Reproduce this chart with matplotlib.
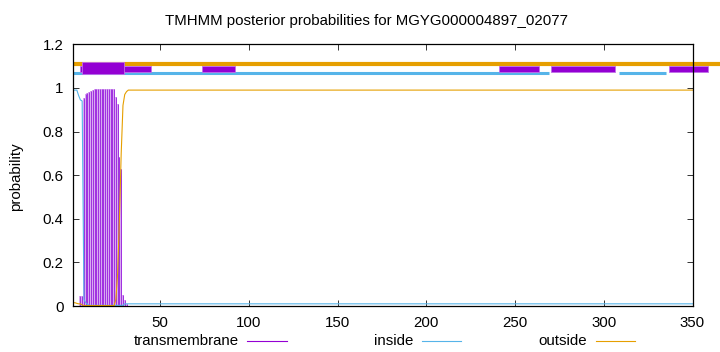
import matplotlib
matplotlib.use("Agg")
import matplotlib.pyplot as plt
from matplotlib.lines import Line2D
from matplotlib.patches import Rectangle

plt.rcParams['font.family'] = ['Liberation Sans', 'DejaVu Sans']
plt.rcParams['font.size'] = 10.8

title = "TMHMM posterior probabilities for MGYG000004897_02077"
seq_len = 350

# per-residue posterior probabilities (residue positions and values)
tm_res = list(range(1, 32))
tm_prob = [0, 0, 0, 0, 0.045, 0.045, 0.955, 0.972, 0.978, 0.983, 0.988, 0.992,
           0.995, 0.995, 0.995, 0.995, 0.995, 0.995, 0.995, 0.995, 0.995, 0.995,
           0.995, 0.995, 0.96, 0.925, 0.685, 0.63, 0.05, 0.027, 0.01]

inside_res = [1, 2, 3, 4, 5, 6, 7, 8, 9, 10, 29, 30, 350]
inside_prob = [0.99, 0.99, 0.99, 0.965, 0.945, 0.94, 0.03, 0.015, 0.008, 0.003,
               0.003, 0.01, 0.01]

outside_res = [1, 2, 3, 4, 5, 6, 7, 24, 25, 26, 27, 28, 29, 30, 31, 32, 350]
outside_prob = [0.015, 0.015, 0.012, 0.01, 0.01, 0.005, 0.002, 0.002, 0.03, 0.15,
                0.4, 0.7, 0.92, 0.97, 0.983, 0.99, 0.99]

# topology segments drawn above the curves (start, end)
outside_segments = [(1, 366)]
inside_segments = [(1, 269.2), (308.3, 335.2)]
tm_segments = [(4.8, 44.8), (73.4, 92.2), (241.2, 263.4), (270.2, 306.4), (336.5, 358.5)]
tm_strong_segments = [(5.7, 29.8)]

xticks = [50, 100, 150, 200, 250, 300, 350]
yticks = [0, 0.2, 0.4, 0.6, 0.8, 1.0, 1.2]
ytick_labels = ["0", "0.2", "0.4", "0.6", "0.8", "1", "1.2"]

PURPLE = "#9400d3"
BLUE = "#56b4e9"
ORANGE = "#e69f00"

fig = plt.figure(figsize=(7.2, 3.52), dpi=100)
W, H = 720, 352
ax = fig.add_axes([73.3 / W, 46 / H, (692.5 - 73.3) / W, (306 - 44.3) / H])

ax.vlines(tm_res, 0, tm_prob, colors="#d4a0f0", linewidth=1.3, zorder=2)
ax.vlines(tm_res, 0, tm_prob, colors="#a030e0", linewidth=0.7, zorder=2.5)
ax.plot(inside_res, inside_prob, color=BLUE, lw=0.8, zorder=3)
ax.plot(outside_res, outside_prob, color=ORANGE, lw=0.8, zorder=4)

for a, b in outside_segments:
    ax.plot([a, b], [1.11, 1.11], color=ORANGE, lw=3.0, solid_capstyle='butt',
            clip_on=False, zorder=5)
for a, b in inside_segments:
    ax.plot([a, b], [1.07, 1.07], color=BLUE, lw=2.2, solid_capstyle='butt',
            clip_on=False, zorder=5)
for a, b in tm_segments:
    ax.add_patch(Rectangle((a, 1.075), b - a, 0.026, facecolor=PURPLE,
                           edgecolor="#c070e8", lw=0.6, clip_on=False, zorder=6))
for a, b in tm_strong_segments:
    ax.add_patch(Rectangle((a, 1.066), b - a, 0.052, facecolor=PURPLE,
                           edgecolor="#c070e8", lw=0.6, clip_on=False, zorder=7))

ax.set_xlim(1, seq_len)
ax.set_ylim(0, 1.2)
ax.set_xticks(xticks)
ax.set_yticks(yticks)
ax.set_yticklabels(ytick_labels)
ax.tick_params(direction='in', length=4.5, width=0.7, top=True, right=True,
               pad=7, labelsize=10.8, color="#333333")
for s in ax.spines.values():
    s.set_linewidth(0.9)
    s.set_zorder(10)

fig.text(366.5 / W, 1 - 21 / H, title, ha='center', va='center', fontsize=10.8)
fig.text(16 / W, 1 - 176.5 / H, "probability", rotation=90, ha='center',
         va='center', fontsize=10.8)

legend_items = [("transmembrane", PURPLE, 238.7, 247, 286.7),
                ("inside", BLUE, 413.3, 421.7, 461),
                ("outside", ORANGE, 586.7, 596, 635.3)]
ly = 1 - 340.7 / H
for label, col, tx, x0, x1 in legend_items:
    fig.text(tx / W, ly, label, ha='right', va='center', fontsize=10.8)
    fig.add_artist(Line2D([x0 / W, x1 / W], [ly, ly], color=col, lw=0.8,
                          transform=fig.transFigure))

fig.savefig("out.png", dpi=100)
